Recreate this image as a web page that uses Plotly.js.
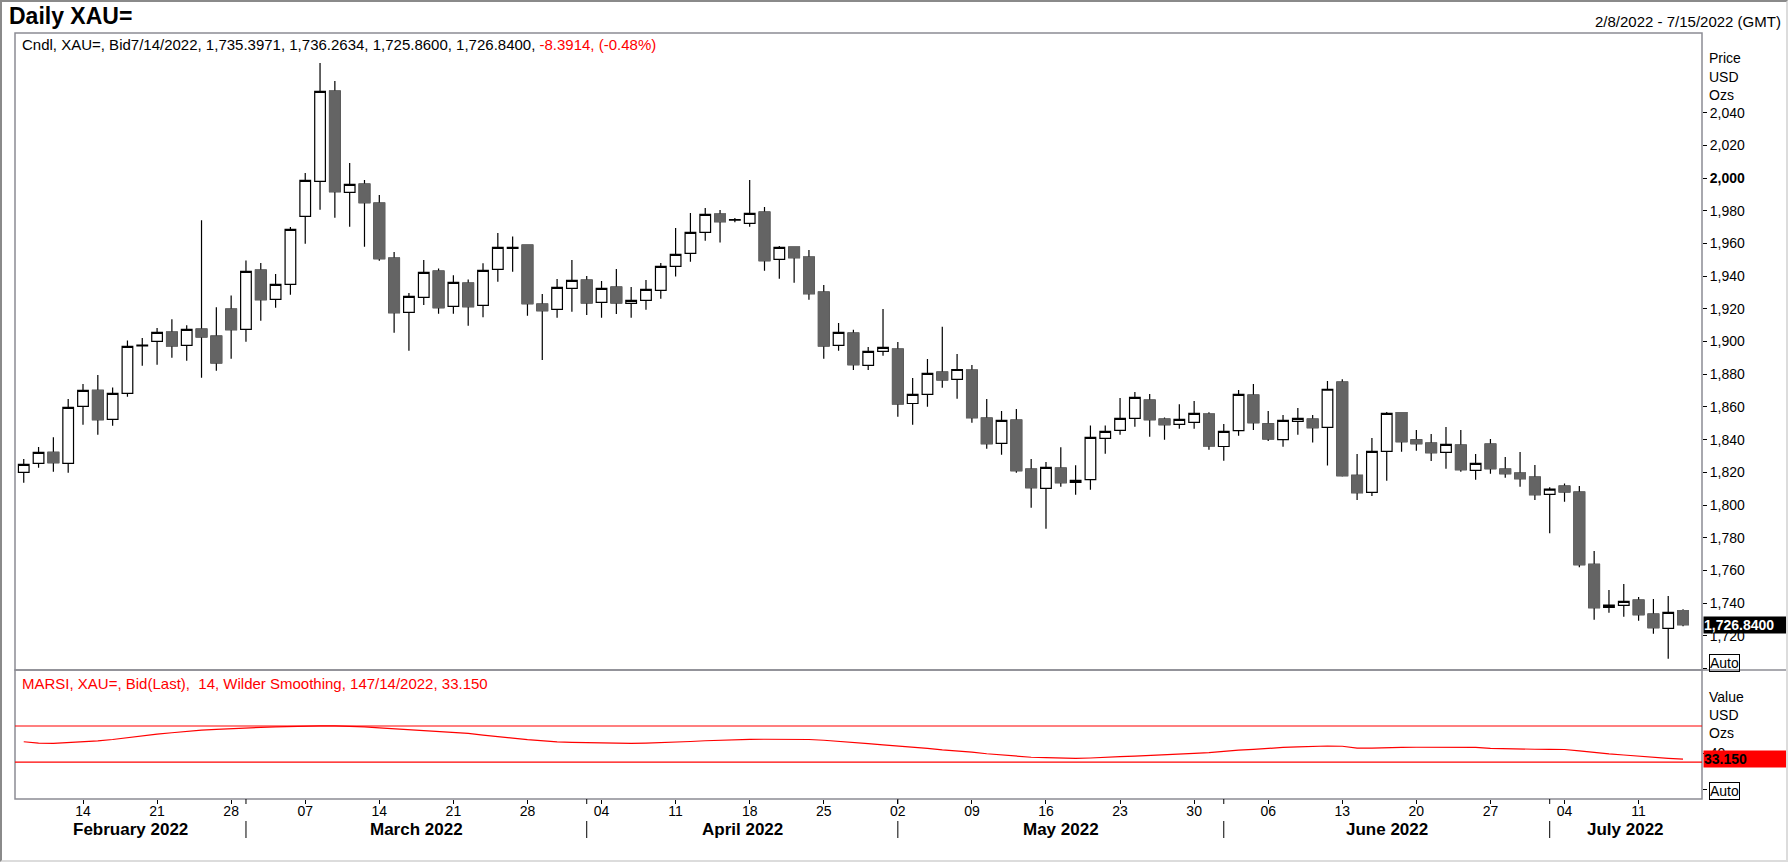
<!DOCTYPE html>
<html>
<head>
<meta charset="utf-8">
<script src="https://cdn.plot.ly/plotly-3.0.1.min.js"></script>
<style>
  body { margin:0; background:#fff; }
  #wrap { position:relative; width:1788px; height:862px; }
  #plot { position:absolute; left:0; top:0; width:1788px; height:862px; }
  #frame { position:absolute; left:0; top:0; width:1788px; height:862px; box-sizing:border-box;
           border-top:2px solid #8a8a8a; border-left:2px solid #8a8a8a;
           border-right:2px solid #dcdcdc; border-bottom:2px solid #dcdcdc; pointer-events:none; }
</style>
</head>
<body>
<div id="wrap"><div id="plot"></div><div id="frame"></div></div>
<script>
// Trading days shown on the chart (categories)
const dates = [
  '2022-02-08','2022-02-09','2022-02-10','2022-02-11','2022-02-14','2022-02-15','2022-02-16','2022-02-17','2022-02-18',
  '2022-02-21','2022-02-22','2022-02-23','2022-02-24','2022-02-25','2022-02-28',
  '2022-03-01','2022-03-02','2022-03-03','2022-03-04','2022-03-07','2022-03-08','2022-03-09','2022-03-10','2022-03-11',
  '2022-03-14','2022-03-15','2022-03-16','2022-03-17','2022-03-18','2022-03-21','2022-03-22','2022-03-23','2022-03-24',
  '2022-03-25','2022-03-28','2022-03-29','2022-03-30','2022-03-31',
  '2022-04-01','2022-04-04','2022-04-05','2022-04-06','2022-04-07','2022-04-08','2022-04-11','2022-04-12','2022-04-13',
  '2022-04-14','2022-04-15','2022-04-18','2022-04-19','2022-04-20','2022-04-21','2022-04-22','2022-04-25','2022-04-26',
  '2022-04-27','2022-04-28','2022-04-29',
  '2022-05-02','2022-05-03','2022-05-04','2022-05-05','2022-05-06','2022-05-09','2022-05-10','2022-05-11','2022-05-12',
  '2022-05-13','2022-05-16','2022-05-17','2022-05-18','2022-05-19','2022-05-20','2022-05-23','2022-05-24','2022-05-25',
  '2022-05-26','2022-05-27','2022-05-30','2022-05-31',
  '2022-06-01','2022-06-02','2022-06-03','2022-06-06','2022-06-07','2022-06-08','2022-06-09','2022-06-10','2022-06-13',
  '2022-06-14','2022-06-15','2022-06-16','2022-06-17','2022-06-20','2022-06-21','2022-06-22','2022-06-23','2022-06-24',
  '2022-06-27','2022-06-28','2022-06-29','2022-06-30',
  '2022-07-01','2022-07-04','2022-07-05','2022-07-06','2022-07-07','2022-07-08','2022-07-11','2022-07-12','2022-07-13',
  '2022-07-14'
];

// Daily candles
const open = [
  1820.0,1825.5,1832.2,1825.5,1860.3,1870.1,1852.4,1868.3,1897.3,1900.1,1905.8,1897.6,1907.6,1903.3,1919.9,
  1907.4,1943.7,1925.8,1935.0,1976.6,1998.0,2053.2,1991.2,1996.3,1984.7,1951.1,1917.8,1927.0,1943.1,1921.5,1935.8,1922.1,1944.1,1957.0,1959.0,1922.9,1919.7,1932.5,
  1937.6,1924.0,1933.3,1923.3,1925.2,1931.3,1946.0,1953.9,1966.8,1978.0,1974.3,1972.3,1979.2,1950.3,1957.8,1951.7,1930.3,1897.6,1905.2,1885.4,1894.0,
  1895.4,1862.1,1867.7,1881.3,1876.8,1882.6,1853.2,1837.7,1852.0,1822.0,1810.2,1822.6,1813.9,1815.5,1840.8,1845.7,1853.0,1864.2,1852.6,1849.3,1850.5,1855.6,
  1835.8,1845.5,1867.3,1849.6,1840.0,1851.2,1852.6,1847.5,1875.2,1818.2,1807.7,1832.8,1856.5,1839.8,1837.9,1832.2,1836.7,1821.2,1837.3,1822.0,1819.6,1817.1,
  1806.5,1811.6,1807.9,1763.7,1737.4,1738.6,1741.9,1733.3,1724.5,1735.3971
];
const high = [
  1828.1,1835.5,1841.5,1864.8,1874.0,1879.5,1871.9,1900.7,1902.1,1908.2,1913.7,1909.9,1974.1,1920.9,1928.2,
  1949.6,1948.0,1941.3,1970.0,2003.1,2070.3,2059.3,2009.2,1998.8,1989.6,1954.7,1929.7,1949.8,1944.7,1940.5,1938.0,1947.8,1966.4,1964.3,1959.0,1929.1,1938.2,1949.8,
  1940.1,1937.0,1944.3,1933.3,1937.6,1948.0,1969.4,1978.6,1981.7,1980.4,1975.5,1998.8,1982.3,1958.4,1957.8,1956.0,1934.6,1911.3,1907.2,1896.6,1919.9,
  1899.7,1877.7,1889.3,1909.0,1892.3,1885.6,1864.8,1857.5,1858.7,1828.1,1826.3,1835.4,1824.4,1848.7,1848.7,1865.4,1869.1,1867.9,1853.6,1861.7,1863.6,1856.8,
  1849.5,1870.3,1874.0,1857.5,1855.1,1859.4,1855.1,1875.9,1876.9,1831.2,1841.0,1856.9,1856.5,1845.9,1843.4,1847.7,1845.9,1831.2,1840.4,1829.4,1832.4,1824.5,
  1810.8,1813.2,1811.6,1771.9,1748.0,1751.7,1743.7,1742.5,1744.3,1736.2634
];
const low = [
  1813.6,1822.8,1820.4,1819.8,1849.1,1843.0,1848.5,1866.2,1885.2,1885.8,1890.1,1888.3,1877.9,1882.2,1889.5,
  1899.9,1912.7,1920.7,1928.6,1959.8,1980.6,1975.7,1970.2,1958.0,1949.4,1905.4,1894.4,1922.3,1917.0,1917.0,1909.7,1914.8,1936.6,1942.7,1915.8,1888.7,1914.6,1918.2,
  1916.3,1914.6,1916.8,1914.6,1919.5,1926.2,1939.7,1948.8,1961.7,1960.5,1972.9,1970.2,1943.3,1938.4,1936.0,1925.6,1889.5,1894.4,1882.6,1882.6,1891.3,
  1854.0,1849.1,1860.1,1871.8,1865.0,1850.3,1834.4,1830.8,1819.8,1798.4,1785.5,1811.2,1806.3,1809.4,1831.4,1843.0,1847.9,1841.8,1839.9,1846.6,1846.6,1833.8,
  1827.1,1842.4,1845.9,1839.2,1835.7,1843.0,1838.2,1824.1,1817.5,1803.1,1805.5,1814.9,1832.6,1833.2,1826.9,1822.2,1820.4,1815.5,1819.2,1816.7,1811.2,1803.1,
  1782.7,1802.0,1761.9,1729.9,1734.1,1731.7,1729.2,1721.3,1706.0,1725.86
];
const close = [
  1824.9,1832.2,1825.9,1859.7,1870.1,1852.2,1868.3,1897.0,1897.8,1905.6,1897.4,1907.4,1902.9,1887.0,1907.2,
  1942.9,1925.6,1935.0,1968.6,1998.6,2053.0,1991.6,1996.1,1984.9,1950.7,1917.6,1927.6,1942.3,1920.7,1936.2,1921.3,1943.5,1957.6,1957.6,1923.1,1918.9,1933.1,1937.4,
  1923.7,1932.5,1923.7,1925.2,1931.9,1946.0,1953.3,1966.8,1977.8,1973.3,1974.6,1978.4,1949.4,1957.6,1951.3,1929.3,1897.4,1905.6,1885.8,1894.0,1896.4,
  1861.9,1867.7,1880.5,1876.6,1882.9,1853.4,1837.5,1851.8,1821.0,1810.6,1823.0,1813.7,1815.1,1841.4,1845.0,1853.0,1865.8,1852.2,1849.1,1852.4,1856.0,1836.2,
  1845.0,1867.7,1850.4,1840.4,1851.8,1853.0,1847.3,1870.8,1818.0,1807.5,1832.8,1856.1,1838.8,1837.5,1832.0,1837.1,1821.6,1825.5,1822.2,1819.2,1816.1,1806.3,
  1809.7,1808.1,1763.5,1737.2,1738.8,1741.1,1732.9,1725.0,1734.3,1726.84
];

// 14 day RSI (Wilder smoothing), lower panel
const rsi = [
  52.5,51.0,50.8,51.5,52.5,53.5,55.0,57.0,59.5,61.0,62.5,64.3,65.3,66.3,67.2,
  67.8,68.5,69.0,69.6,70.0,70.2,70.2,70.0,69.0,68.0,67.0,65.8,64.8,63.8,62.8,61.8,59.8,58.5,56.5,54.8,53.3,52.3,51.8,
  51.5,51.0,50.7,50.7,51.0,51.4,52.0,52.8,53.6,54.3,55.0,55.2,55.3,55.3,55.2,55.0,54.2,53.2,52.0,50.5,49.0,
  48.0,46.5,45.2,43.5,42.5,41.0,39.2,37.8,36.5,35.3,35.0,34.3,34.1,34.5,35.5,36.0,36.5,37.2,37.6,38.2,39.6,40.5,
  42.0,43.2,44.0,45.3,46.2,46.8,47.4,47.8,47.5,45.5,45.4,46.2,46.3,46.4,46.4,46.4,46.4,46.3,45.2,44.6,44.3,44.2,
  44.0,43.9,42.3,40.5,39.0,37.8,36.3,35.2,34.1,33.15
];
const rsiLevels = [30, 70];

// Axis labels
const weekTicks = ['2022-02-14','2022-02-21','2022-02-28','2022-03-07','2022-03-14','2022-03-21','2022-03-28',
  '2022-04-04','2022-04-11','2022-04-18','2022-04-25','2022-05-02','2022-05-09','2022-05-16','2022-05-23','2022-05-30',
  '2022-06-06','2022-06-13','2022-06-20','2022-06-27','2022-07-04','2022-07-11'];
const monthNames = ['February 2022','March 2022','April 2022','May 2022','June 2022','July 2022'];
const priceTicks = [1700,1720,1740,1760,1780,1800,1820,1840,1860,1880,1900,1920,1940,1960,1980,2000,2020,2040];

const FONT = 'Liberation Sans, Arial, sans-serif';
const xRange = [-0.59, dates.length + 0.28];

// px helpers for the plot frame (margins l15 r86 t33 b63)
const px = x => (x - 15) / 1687;
const py = y => (799 - y) / 766;

// bodies only, used to paint the falling candles grey over the black outline
const bodyHi = open.map((o, i) => Math.max(o, close[i]));
const bodyLo = open.map((o, i) => Math.min(o, close[i]));

const fmt4 = v => v.toLocaleString('en-US', {minimumFractionDigits:4, maximumFractionDigits:4});
const last = dates.length - 1;

const candles = {
  type:'candlestick', x:dates, open:open, high:high, low:low, close:close,
  xaxis:'x', yaxis:'y', hoverinfo:'skip',
  increasing:{line:{color:'#000', width:1.2}, fillcolor:'#fff'},
  decreasing:{line:{color:'#000', width:1.2}, fillcolor:'#646464'}
};
const darkBodies = {
  type:'candlestick', x:dates, open:open, high:bodyHi, low:bodyLo, close:close,
  xaxis:'x', yaxis:'y', hoverinfo:'skip',
  increasing:{line:{color:'rgba(0,0,0,0)', width:1.2}, fillcolor:'rgba(0,0,0,0)'},
  decreasing:{line:{color:'#646464', width:1.2}, fillcolor:'#646464'}
};
const rsiLine = {
  type:'scatter', mode:'lines', x:dates, y:rsi, xaxis:'x', yaxis:'y2',
  line:{color:'#ff0000', width:1.2}, hoverinfo:'skip'
};

// month separators and centred month names
const monthStart = [];
dates.forEach((d, i) => { if (i > 0 && d.slice(5,7) !== dates[i-1].slice(5,7)) monthStart.push(i); });
const edges = [xRange[0]].concat(monthStart, [xRange[1]]);

const shapes = [
  {type:'rect', xref:'paper', yref:'paper', x0:0, x1:1, y0:py(670), y1:1, line:{color:'#8c8c94', width:1.5}},
  {type:'rect', xref:'paper', yref:'paper', x0:0, x1:1, y0:0, y1:py(670), line:{color:'#8c8c94', width:1.5}},
  {type:'line', xref:'paper', yref:'paper', x0:1, x1:px(1788), y0:py(670), y1:py(670), line:{color:'#8c8c94', width:1.5}}
];
rsiLevels.forEach(v => shapes.push({type:'line', xref:'paper', yref:'y2', x0:0, x1:1, y0:v, y1:v,
  line:{color:'#ff0000', width:1.2}}));
monthStart.forEach(i => {
  shapes.push({type:'line', xref:'x', yref:'paper', x0:i, x1:i, y0:0, y1:py(804), line:{color:'#000', width:1}});
  shapes.push({type:'line', xref:'x', yref:'paper', x0:i, x1:i, y0:py(821), y1:py(838), line:{color:'#000', width:1}});
});

const ann = (o) => Object.assign({showarrow:false, xref:'paper', yref:'paper', xanchor:'left', yanchor:'middle',
  font:{family:FONT, size:14, color:'#000'}}, o);

const annotations = [
  ann({x:px(7), y:py(16), text:'<b>Daily XAU=</b>', font:{family:FONT, size:23, color:'#000'}}),
  ann({x:px(1783), y:py(22), xanchor:'right', text:'2/8/2022 - 7/15/2022 (GMT)', font:{family:FONT, size:15, color:'#000'}}),
  ann({x:px(20), y:py(44), text:'Cndl, XAU=, Bid7/14/2022, ' + fmt4(open[last]) + ', ' + fmt4(high[last]) + ', ' +
       fmt4(low[last]) + ', ' + fmt4(close[last]) + ', <span style="color:#ff0000">-8.3914, (-0.48%)</span>',
       font:{family:FONT, size:15, color:'#000'}}),
  ann({x:px(1707), y:py(58), text:'Price'}),
  ann({x:px(1707), y:py(77), text:'USD'}),
  ann({x:px(1707), y:py(95), text:'Ozs'}),
  ann({x:px(1703), yref:'y', y:close[last], text:'<b>' + fmt4(close[last]) + '</b>', bgcolor:'#000',
       width:82, align:'left', borderpad:0, font:{family:FONT, size:14, color:'#fff'}}),
  ann({x:px(1709), y:py(663), text:'Auto', bordercolor:'#000', borderwidth:1, borderpad:0}),
  ann({x:px(20), y:py(683), text:'MARSI, XAU=, Bid(Last),  14, Wilder Smoothing, 147/14/2022, ' + rsi[last].toFixed(3),
       font:{family:FONT, size:15, color:'#ff0000'}}),
  ann({x:px(1707), y:py(697), text:'Value'}),
  ann({x:px(1707), y:py(715), text:'USD'}),
  ann({x:px(1707), y:py(733), text:'Ozs'}),
  ann({x:px(1703), yref:'y2', y:rsi[last], text:'<b>' + rsi[last].toFixed(3) + '</b>', bgcolor:'#ff0000',
       width:82, align:'left', borderpad:0, font:{family:FONT, size:14, color:'#000'}}),
  ann({x:px(1709), y:py(791), text:'Auto', bordercolor:'#000', borderwidth:1, borderpad:0})
];
monthNames.forEach((m, k) => annotations.push(ann({xref:'x', x:(edges[k] + edges[k+1]) / 2, xanchor:'center',
  y:py(830), text:'<b>' + m + '</b>', font:{family:FONT, size:17, color:'#000'}})));

const layout = {
  width:1788, height:862,
  margin:{l:15, r:86, t:33, b:63},
  paper_bgcolor:'#fff', plot_bgcolor:'#fff',
  showlegend:false, hovermode:false,
  boxgap:0.28, boxgroupgap:0,
  font:{family:FONT, size:14, color:'#000'},
  xaxis:{
    type:'category', anchor:'y2', range:xRange, rangeslider:{visible:false},
    tickvals:weekTicks, ticktext:weekTicks.map(d => d.slice(8)),
    ticks:'outside', ticklen:4, tickwidth:1, tickcolor:'#000', ticklabelstandoff:-5,
    tickfont:{family:FONT, size:14, color:'#000'},
    showgrid:false, zeroline:false, showline:false
  },
  yaxis:{
    domain:[py(670), 1], side:'right', anchor:'x', range:[1699.1, 2088.7],
    tickvals:priceTicks,
    ticktext:priceTicks.map(v => v === 1700 ? '' : (v === 2000 ? '<b>2,000</b>' : v.toLocaleString('en-US'))),
    ticks:'outside', ticklen:4, tickwidth:1, tickcolor:'#000',
    tickfont:{family:FONT, size:14, color:'#000'},
    showgrid:false, zeroline:false, showline:false
  },
  yaxis2:{
    domain:[0, py(671)], side:'right', anchor:'x', range:[-11, 131],
    tickvals:[0, 40], ticktext:['', '40'],
    ticks:'outside', ticklen:4, tickwidth:1, tickcolor:'#000',
    tickfont:{family:FONT, size:14, color:'#000'},
    showgrid:false, zeroline:false, showline:false
  },
  shapes:shapes,
  annotations:annotations
};

Plotly.newPlot('plot', [candles, darkBodies, rsiLine], layout, {staticPlot:true, displayModeBar:false});
</script>
</body>
</html>
